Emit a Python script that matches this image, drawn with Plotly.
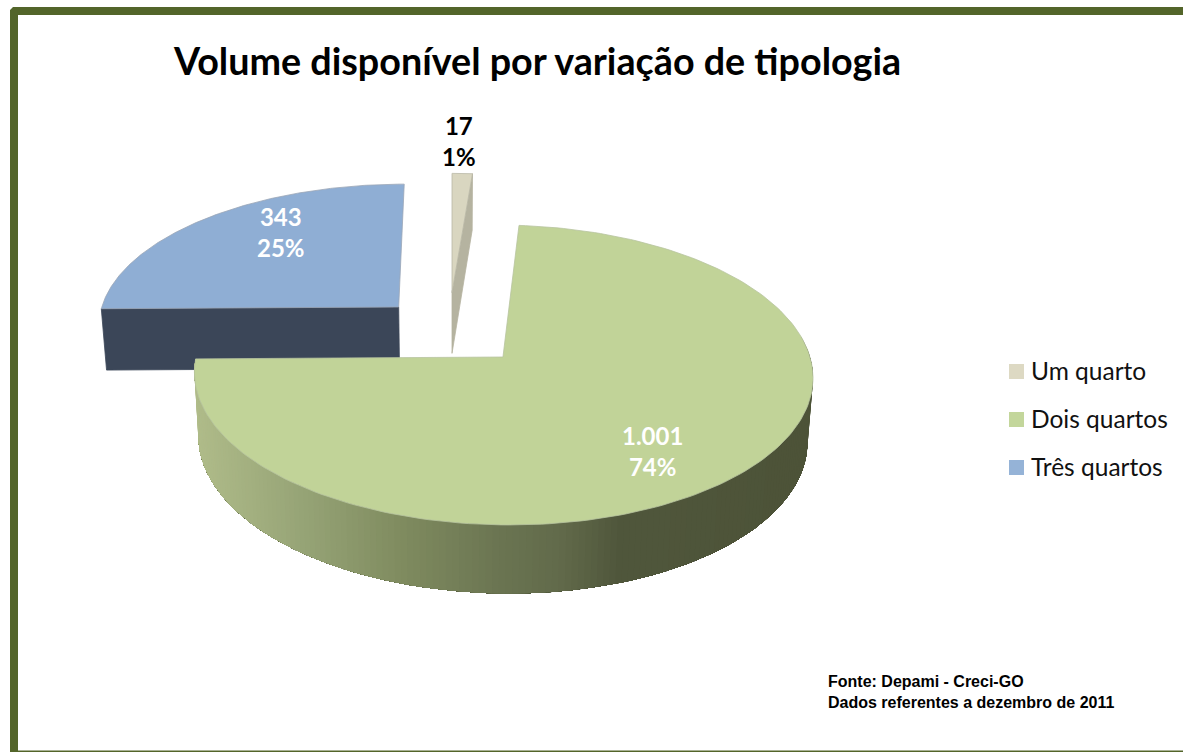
import numpy as np
import plotly.graph_objects as go

categories = ["Um quarto", "Dois quartos", "Três quartos"]
values = [17, 1001, 343]
value_labels = ["17", "1.001", "343"]
percent_labels = ["1%", "74%", "25%"]
title_text = "Volume disponível por variação de tipologia"
source_lines = ["Fonte: Depami - Creci-GO", "Dados referentes a dezembro de 2011"]

TOP = {"Um quarto": "#D9D6C0", "Dois quartos": "#C1D398", "Três quartos": "#8FAED4"}
KEY = {"Um quarto": "#DDD9C3", "Dois quartos": "#C3D69B", "Três quartos": "#95B3D7"}
OFFSET = {"Um quarto": (0.0, -0.46), "Dois quartos": (0.166, 0.0), "Três quartos": (-0.181, -0.3526)}
RADIUS = {"Um quarto": 1.0, "Dois quartos": 1.0, "Três quartos": 1.008}
LABEL_POS = {"Um quarto": (459, 141), "Dois quartos": (652, 451), "Três quartos": (281, 232)}
LABEL_COL = {"Um quarto": "#000000", "Dois quartos": "#FFFFFF", "Três quartos": "#FFFFFF"}
LEGEND_Y = {"Um quarto": 371.5, "Dois quartos": 419.5, "Três quartos": 467.5}
GRAD_X = [195, 300, 400, 500, 560, 620, 815]
GRAD_R = [0xB0, 0x97, 0x80, 0x6B, 0x62, 0x50, 0x4D]
GRAD_G = [0xBC, 0xA5, 0x8C, 0x75, 0x6B, 0x57, 0x53]
GRAD_B = [0x8A, 0x77, 0x60, 0x52, 0x4B, 0x3C, 0x38]

X0, Y0, B, A, K, H, KH, ZS = 452.0, 357.0, 307.0, 147.8, 0.12, 63.0, 0.08, 0.985


def proj(u, v, z=0.0):
    d = 1 - K * v
    x = B * u / d
    y = A * v / d
    return X0 + x * (1 - (1 - ZS) * z), Y0 + y + H * z / (1 - KH * v)


def rim(name, t):
    ou, ov = OFFSET[name]
    r = RADIUS[name]
    return ou + r * np.sin(t), ov - r * np.cos(t)


total = sum(values)
edges = np.cumsum([0] + values) / total * 2 * np.pi
spans = {c: (edges[i], edges[i + 1]) for i, c in enumerate(categories)}

fig = go.Figure()


def poly(xs, ys, color, line=None, width=0.8):
    fig.add_trace(go.Scatter(
        x=list(xs), y=list(ys), mode="lines", fill="toself", fillcolor=color,
        line=dict(color=line or color, width=width), hoverinfo="skip", showlegend=False))


def top_face(name, edge):
    a, b = spans[name]
    t = np.linspace(a, b, 200)
    u, v = rim(name, t)
    ou, ov = OFFSET[name]
    x, y = proj(np.r_[ou, u, ou], np.r_[ov, v, ov])
    poly(x, y, TOP[name], edge)


def radial_face(name, angle, color):
    ou, ov = OFFSET[name]
    u, v = rim(name, np.array([angle]))
    x1, y1 = proj(np.array([ou, u[0]]), np.array([ov, v[0]]))
    x2, y2 = proj(np.array([u[0], ou]), np.array([v[0], ov]), 1.0)
    poly(np.r_[x1, x2, x1[0]], np.r_[y1, y2, y1[0]], color)


# Três quartos (back left)
a3, b3 = spans["Três quartos"]
radial_face("Três quartos", a3, "#3B4658")
top_face("Três quartos", "#9AA6B6")

# Um quarto (back)
a1, b1 = spans["Um quarto"]
radial_face("Um quarto", b1, "#B5B3A0")
top_face("Um quarto", "#B9B7A6")

# Dois quartos: curved wall shaded from right to left, each step painted over the last
a2, b2 = spans["Dois quartos"]
ts = np.linspace(np.pi / 2 - 0.14, b2, 170)
for i in range(len(ts) - 1):
    t = ts[i:]
    u, v = rim("Dois quartos", t)
    xt, yt = proj(u, v)
    xb, yb = proj(u, v, 1.0)
    xm = (xt[0] + proj(*rim("Dois quartos", ts[i + 1:i + 2]))[0][0]) / 2
    col = "rgb(%d,%d,%d)" % (np.interp(xm, GRAD_X, GRAD_R), np.interp(xm, GRAD_X, GRAD_G), np.interp(xm, GRAD_X, GRAD_B))
    poly(np.r_[xt, xb[::-1], xt[0]], np.r_[yt, yb[::-1], yt[0]], col, width=0)
top_face("Dois quartos", "#B7C4A0")

# Legend keys
for c in categories:
    fig.add_trace(go.Scatter(
        x=[1016.5], y=[LEGEND_Y[c]], mode="markers", name=c, showlegend=False,
        marker=dict(symbol="square", size=15, color=KEY[c], line=dict(width=0)), hoverinfo="skip"))

annotations = [dict(x=537, y=60, text="<b>%s</b>" % title_text, showarrow=False,
                    font=dict(family="Lato", size=37.7, color="#000000"), xanchor="center", yanchor="middle")]
for i, c in enumerate(categories):
    lx, ly = LABEL_POS[c]
    annotations.append(dict(
        x=lx, y=ly, text="<b>%s<br>%s</b>" % (value_labels[i], percent_labels[i]), showarrow=False,
        font=dict(family="Lato", size=24, color=LABEL_COL[c]), xanchor="center", yanchor="middle", align="center"))
    annotations.append(dict(
        x=1028.5, y=LEGEND_Y[c] - 1.5, text=c, showarrow=False,
        font=dict(family="Lato", size=24.5, color="#111111"), xanchor="left", yanchor="middle"))
annotations.append(dict(
    x=826, y=692, text="<b>%s<br>%s</b>" % tuple(source_lines), showarrow=False, align="left",
    font=dict(family="Liberation Sans", size=16, color="#000000"), xanchor="left", yanchor="middle"))

GREEN = "#53652A"
shapes = [
    dict(type="path", path="M 10 750 L 10 10 L 13 7 L 1183 7 L 1183 15 L 18 15 L 18 752 L 10 752 Z",
         fillcolor=GREEN, line=dict(width=0), layer="above"),
    dict(type="rect", x0=18, x1=1183, y0=750.5, y1=752, fillcolor=GREEN, line=dict(width=0), layer="above"),
]

fig.update_layout(
    width=1183, height=752, margin=dict(l=0, r=0, t=0, b=0),
    paper_bgcolor="white", plot_bgcolor="white",
    xaxis=dict(range=[0, 1183], visible=False, fixedrange=True),
    yaxis=dict(range=[752, 0], visible=False, fixedrange=True),
    showlegend=False,
    annotations=annotations, shapes=shapes,
)

fig.write_html("out.html", config={"displayModeBar": False},
               post_script="document.body.style.margin='0';document.body.style.overflow='hidden';")
